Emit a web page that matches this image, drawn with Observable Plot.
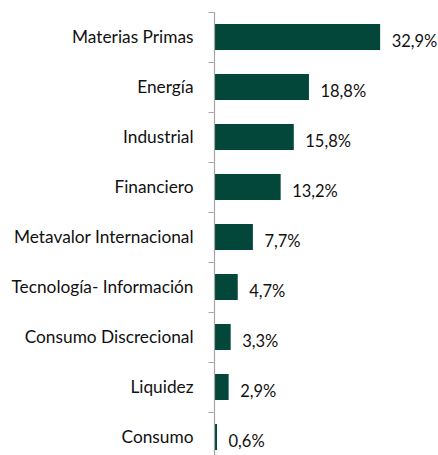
<!DOCTYPE html>
<html>
<head>
<meta charset="utf-8">
<script src="https://cdn.jsdelivr.net/npm/d3@7"></script>
<script src="https://cdn.jsdelivr.net/npm/@observablehq/plot@0.6"></script>
<style>
  html, body { margin: 0; padding: 0; background: #fff; overflow: hidden; }
  #chart { width: 438px; height: 455px; overflow: hidden; }
</style>
</head>
<body>
<div id="chart"></div>
<script>
const categories = [
  "Materias Primas",
  "Energía",
  "Industrial",
  "Financiero",
  "Metavalor Internacional",
  "Tecnología- Información",
  "Consumo Discrecional",
  "Liquidez",
  "Consumo"
];
const values = [32.9, 18.8, 15.8, 13.2, 7.7, 4.7, 3.3, 2.9, 0.6];
const valueLabels = ["32,9%", "18,8%", "15,8%", "13,2%", "7,7%", "4,7%", "3,3%", "2,9%", "0,6%"];

const data = categories.map((c, i) => ({category: c, value: values[i], label: valueLabels[i]}));

const green = "#03473A";
const axisGray = "#A6A6A6";

const chart = Plot.plot({
  width: 438,
  height: 455,
  marginLeft: 214,
  marginRight: 0,
  marginTop: 12,
  marginBottom: -7,
  style: {fontFamily: "Lato, sans-serif", background: "#fff", overflow: "hidden"},
  x: {domain: [0, 44.36], axis: null},
  y: {domain: categories, paddingInner: 0.48, paddingOuter: 0.24, axis: null},
  marks: [
    Plot.barX(data, {x: "value", y: "category", fill: green}),
    Plot.ruleY(categories, {y: d => d, x1: 0, x2: 1.05, dx: -5.5, dy: -25, stroke: axisGray, strokeWidth: 1}),
    Plot.ruleX([0], {stroke: axisGray, strokeWidth: 1.2}),
    Plot.text(data, {x: 0, y: "category", text: "category", textAnchor: "end", dx: -21, fontSize: 17.3, fill: "#111"}),
    Plot.text(data, {x: "value", y: "category", text: "label", textAnchor: "start", dx: 11, dy: 4, fontSize: 16.5, fill: "#111"})
  ]
});
document.getElementById("chart").append(chart);
</script>
</body>
</html>
